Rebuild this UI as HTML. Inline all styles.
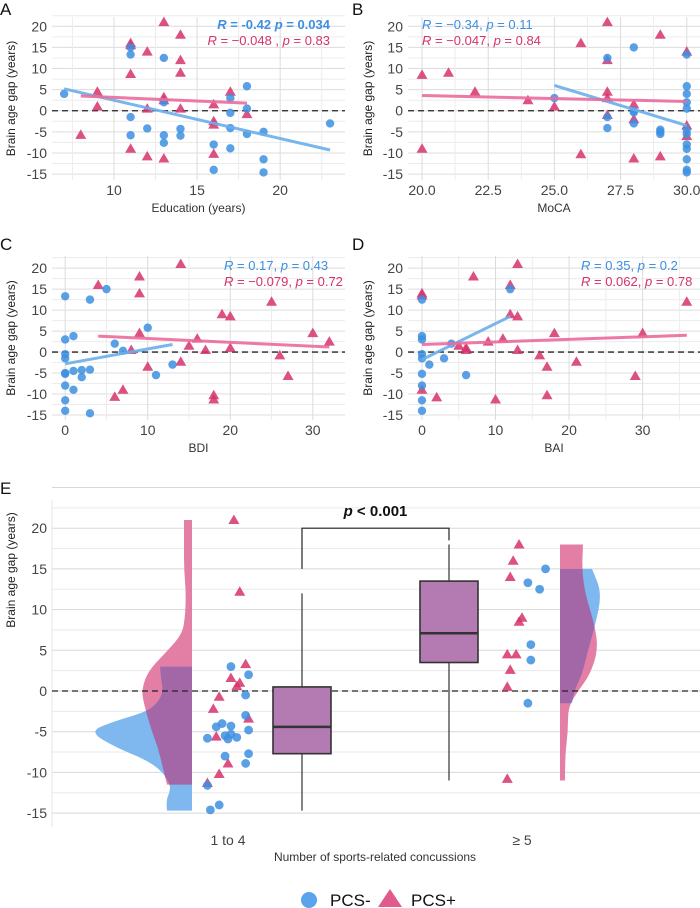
<!DOCTYPE html>
<html><head><meta charset="utf-8">
<style>
body{margin:0;background:#fff;}
svg{display:block;font-family:"Liberation Sans",sans-serif;}
</style></head>
<body>
<svg id="chart" width="700" height="908" viewBox="0 0 700 908"></svg>
<script>
// ---------- Panel A data (Education) ----------
const eduBlueX=[7,11,11,11,11,12,13,13,13,13,14,14,16,16,17,17,17,17,18,18,18,19,19,19,23];
const eduBlueY=[4,15,13.3,-1.5,-5.8,-4.2,12.5,2,-5.8,-7.6,-4.3,-5.9,-8,-14,3,-0.5,-4.1,-8.9,5.8,0.5,-5.5,-5,-11.5,-14.6,-3];
const eduPinkX=[8,9,9,11,11,11,11,12,12,12,13,13,13,13,14,14,14,14,16,16,16,16,17,18];
const eduPinkY=[-5.7,4.5,1,16,15.5,8.7,-9,14,0.5,-10.8,21,3.2,2.5,-11.3,18,12,9,0.5,1.5,-2.5,-3.3,-10.2,4.5,-0.8];
const eduBlueFit=[[7,5.2],[23,-9.3]];
const eduPinkFit=[[8,3.5],[18,1.8]];
// ---------- Panel B data (MoCA) ----------
const mocaBlueX=[25,27,27,27,28,28,28,28,29,29,29,30,30,30,30,30,30,30,30,30,30,30,30];
const mocaBlueY=[3,12.5,-1.5,-4.1,15,0,-0.4,-3,-4.5,-5,-5.5,13.3,5.8,4,2,0.5,-4.5,-5.5,-8,-9,-11.5,-14,-14.6];
const mocaPinkX=[20,20,21,22,24,25,26,26,27,27,27,27,27,28,28,28,29,29,30,30,30];
const mocaPinkY=[8.5,-9,9,4.5,2.5,1,16,-10.3,21,12,4.5,3,-1,1.5,-2,-11.3,18,-10.8,14,-3.5,-6];
const mocaBlueFit=[[25,6],[30,-3.5]];
const mocaPinkFit=[[20,3.6],[30,2.2]];
// ---------- Panel C data (BDI) ----------
const bdiBlueX=[0,0,0,0,0,0,0,0,0,1,1,1,2,2,3,3,3,5,6,7,10,11,13];
const bdiBlueY=[13.3,3,-0.5,-1.5,-5,-5.2,-8,-11.5,-14,3.8,-4.5,-9,-4.3,-6,12.5,-4.2,-14.6,15,2,0.3,5.8,-5.5,-3];
const bdiPinkX=[4,6,7,8,9,9,9,10,14,14,15,16,17,18,18,19,20,20,25,26,27,30,32];
const bdiPinkY=[16,-10.7,-9,0.5,18,14,4.5,-3.5,21,-2.3,1.5,3.2,0.5,-10.3,-11.3,9,8.5,1,12,-0.8,-5.7,4.5,2.5];
const bdiBlueFit=[[0,-2.8],[13,1.8]];
const bdiPinkFit=[[4,3.8],[32,1.2]];
// ---------- Panel D data (BAI) ----------
const baiBlueX=[0,0,0,0,0,0,0,0,0,1,3,4,6,12];
const baiBlueY=[12.5,3.8,3,-0.5,-1.5,-5.2,-8,-11.5,-14,-3,-1.5,2,-5.5,15];
const baiPinkX=[0,0,0,2,5,6,6,7,9,10,11,12,12,13,13,13,16,17,17,18,21,29,30,36];
const baiPinkY=[14,13.5,-9,-10.8,1.5,1,0.5,18,2.5,-11.3,3.2,16,9,21,8.5,0.5,-0.8,-3.5,-10.3,4.5,-2.3,-5.7,4.5,12];
const baiBlueFit=[[0,-1.8],[12,8.5]];
const baiPinkFit=[[0,1.8],[36,4]];
// ---------- Panel E data ----------
const groupLabels=["1 to 4","\u2265 5"];
const eBlueG=[1,1,1,1,1,1,1,1,1,1,1,1,1,1,1,1,1,1,1,2,2,2,2,2,2];
const eBlueJit=[0.01,0.07,0.06,0.06,0.07,0.07,0.06,-0.02,-0.04,0.01,-0.01,0.01,0.03,0,-0.07,-0.01,-0.07,-0.03,-0.06,0.08,0.02,0.06,0.03,0.03,0.02];
const eBlueY=[3,2,-0.5,-3,-4.8,-7.7,-8.9,-4,-4.4,-4.3,-5.5,-5.3,-5.7,-5.9,-5.8,-8,-11.6,-14,-14.6,15,13.3,12.5,5.7,3.8,-1.5];
const ePinkG=[1,1,1,1,1,1,1,1,1,1,1,1,1,2,2,2,2,2,2,2,2,2,2];
const ePinkJit=[0.02,0.04,0.06,0.01,0.04,0.03,-0.03,-0.05,0.07,-0.04,0,-0.03,-0.07,-0.01,-0.03,-0.04,0,-0.01,-0.05,-0.02,-0.04,-0.05,-0.05];
const ePinkY=[21,12.2,3.3,1.6,1,0.6,-0.7,-2.2,-3.4,-5.6,-8.9,-10.2,-11.3,18,16,14,9,8.5,4.5,4.5,2.6,0.5,-10.8];
const boxStats=[[-14.7,-7.7,-4.4,0.5,12],[-11,3.5,7.1,13.5,18]]; // min,q1,med,q3,max
// half-violin densities: [value, relative width]
const vPink1=[[-11.5,25],[-10.5,27],[-9,30],[-7,34],[-5,40],[-3,45],[-1,49],[0,50],[1.5,47],[3,40],[5,24],[7,10],[9,7],[12,6],[15,8],[18,8],[21,8]];
const vBlue1=[[-14.7,25],[-13.5,26],[-12.3,22],[-11.5,22],[-10,29],[-8.5,45],[-7,75],[-5,103],[-3.8,80],[-2.5,44],[-1.2,33],[0,29],[1.5,31],[3,32]];
const vPink2=[[-11,5],[-8,5],[-5,8],[-2,8],[0,18],[2,30],[5,38],[8,35],[12,25],[15,22],[18,23]];
const vBlue2=[[-1.5,12],[0,14],[2,22],[5,28],[8,35],[12,42],[15,32]];

const NS="http://www.w3.org/2000/svg";
const svg=document.getElementById('chart');
function mk(tag,attrs,parent){const e=document.createElementNS(NS,tag);for(const k in attrs)e.setAttribute(k,attrs[k]);(parent||svg).appendChild(e);return e;}
const BLUE="#3d8fe0",PINK="#d6336c",BLUEL="#6aaeea",PINKL="#ea6a9c";

function panel(o){
  const g=mk('g',{});
  
  
  const sx=v=>o.x0+(v-o.xd[0])/(o.xd[1]-o.xd[0])*(o.x1-o.x0);
  const sy=v=>o.y0+(o.yd[1]-v)/(o.yd[1]-o.yd[0])*(o.y1-o.y0);
  for(let v=-15;v<=22.5;v+=2.5){const l=mk('line',{x1:o.x0,x2:o.x1,y1:sy(v),y2:sy(v),stroke:v%5===0?"#dcdcdc":"#ececec","stroke-width":1},g);}
  for(let v=Math.ceil(o.xd[0]/(o.xt/2))*(o.xt/2);v<=o.xd[1];v+=o.xt/2){const maj=Math.abs(v/o.xt-Math.round(v/o.xt))<1e-6;const l=mk('line',{x1:sx(v),x2:sx(v),y1:o.y0,y2:o.y1,stroke:maj?"#dcdcdc":"#ececec","stroke-width":1},g);}
  for(let v=-15;v<=20;v+=5){const t=mk('text',{x:o.x0-5,y:sy(v)+5,"text-anchor":"end","font-size":14,fill:"#444"},g);t.textContent=v;}
  o.xticks.forEach(v=>{const t=mk('text',{x:sx(v),y:o.y1+15,"text-anchor":"middle","font-size":14,fill:"#444"},g);t.textContent=o.xfmt?o.xfmt(v):v;});
  const xt=mk('text',{x:(o.x0+o.x1)/2,y:o.y1+32,"text-anchor":"middle","font-size":12,fill:"#333"},g);xt.textContent=o.xlab;
  const yt=mk('text',{x:0,y:0,"text-anchor":"middle","font-size":12,fill:"#222",transform:`translate(${o.ytx},${(o.y0+o.y1)/2}) rotate(-90)`},g);yt.textContent="Brain age gap (years)";
  const lt=mk('text',{x:o.lx,y:o.ly,"font-size":17,fill:"#111"},g);lt.textContent=o.letter;
  const z=mk('line',{x1:o.x0,x2:o.x1,y1:sy(0),y2:sy(0),stroke:"#222","stroke-width":1.3,"stroke-dasharray":"6,4"},g);
  o.px.forEach((v,i)=>{const y=sy(o.py[i]),x=sx(v);const p=mk('polygon',{points:`${x},${y-5.5} ${x-5.5},${y+4} ${x+5.5},${y+4}`,fill:PINK,"fill-opacity":0.85},g);});
  o.bx.forEach((v,i)=>{const c=mk('circle',{cx:sx(v),cy:sy(o.by[i]),r:4.2,fill:BLUE,"fill-opacity":0.85},g);});
  const fb=mk('line',{x1:sx(o.bf[0][0]),y1:sy(o.bf[0][1]),x2:sx(o.bf[1][0]),y2:sy(o.bf[1][1]),stroke:BLUEL,"stroke-width":3,"stroke-opacity":0.9},g);
  const fp=mk('line',{x1:sx(o.pf[0][0]),y1:sy(o.pf[0][1]),x2:sx(o.pf[1][0]),y2:sy(o.pf[1][1]),stroke:PINKL,"stroke-width":3,"stroke-opacity":0.9},g);
  const a1=mk('text',{x:o.ax,y:o.ay,"text-anchor":o.anchor,"font-size":13,fill:BLUE,"font-weight":o.bold?"bold":"normal"},g);a1.innerHTML=o.t1;
  const a2=mk('text',{x:o.ax,y:o.ay+16,"text-anchor":o.anchor,"font-size":13,fill:PINK},g);a2.innerHTML=o.t2;
}
panel({name:'panel-a',letter:'A',lx:0,ly:15,x0:52,x1:345,xd:[6.27,23.9],y0:17,y1:180,yd:[-16.4,22.2],xt:5,xticks:[10,15,20],xlab:'Education (years)',ytx:15,
  bx:eduBlueX,by:eduBlueY,px:eduPinkX,py:eduPinkY,bf:eduBlueFit,pf:eduPinkFit,ax:330,ay:29,anchor:'end',bold:true,
  t1:'<tspan font-style="italic">R</tspan> = -0.42 <tspan font-style="italic">p</tspan> = 0.034',t2:'<tspan font-style="italic">R</tspan> = \u22120.048 , <tspan font-style="italic">p</tspan> = 0.83'});
panel({name:'panel-b',letter:'B',lx:352,ly:15,x0:408,x1:700,xd:[19.47,30.5],y0:17,y1:180,yd:[-16.4,22.2],xt:2.5,xticks:[20,22.5,25,27.5,30],xfmt:v=>v.toFixed(1),xlab:'MoCA',ytx:372,
  bx:mocaBlueX,by:mocaBlueY,px:mocaPinkX,py:mocaPinkY,bf:mocaBlueFit,pf:mocaPinkFit,ax:422,ay:29,anchor:'start',
  t1:'<tspan font-style="italic">R</tspan> = \u22120.34, <tspan font-style="italic">p</tspan> = 0.11',t2:'<tspan font-style="italic">R</tspan> = \u22120.047, <tspan font-style="italic">p</tspan> = 0.84'});
panel({name:'panel-c',letter:'C',lx:0,ly:250,x0:52,x1:345,xd:[-1.6,33.9],y0:256,y1:420,yd:[-16.2,22.9],xt:10,xticks:[0,10,20,30],xlab:'BDI',ytx:15,
  bx:bdiBlueX,by:bdiBlueY,px:bdiPinkX,py:bdiPinkY,bf:bdiBlueFit,pf:bdiPinkFit,ax:224,ay:270,anchor:'start',
  t1:'<tspan font-style="italic">R</tspan> = 0.17, <tspan font-style="italic">p</tspan> = 0.43',t2:'<tspan font-style="italic">R</tspan> = \u22120.079, <tspan font-style="italic">p</tspan> = 0.72'});
panel({name:'panel-d',letter:'D',lx:352,ly:250,x0:408,x1:700,xd:[-1.9,37.8],y0:256,y1:420,yd:[-16.2,22.9],xt:10,xticks:[0,10,20,30],xlab:'BAI',ytx:372,
  bx:baiBlueX,by:baiBlueY,px:baiPinkX,py:baiPinkY,bf:baiBlueFit,pf:baiPinkFit,ax:581,ay:270,anchor:'start',
  t1:'<tspan font-style="italic">R</tspan> = 0.35, <tspan font-style="italic">p</tspan> = 0.2',t2:'<tspan font-style="italic">R</tspan> = 0.062, <tspan font-style="italic">p</tspan> = 0.78'});

// ---------- Panel E ----------
(function(){
  const g=mk('g',{});
  
  
  const X0=52,X1=700,Y0=500,Y1=827;
  const sx=v=>228+(v-1)*294;
  const sy=v=>691-v*8.14;
  for(let v=-15;v<=25;v+=2.5){const l=mk('line',{x1:X0,x2:X1,y1:sy(v),y2:sy(v),stroke:v%5===0?"#d8d8d8":"#eaeaea","stroke-width":1},g);}
  const ax=mk('line',{x1:X0,x2:X0,y1:Y0,y2:Y1,stroke:"#e6e6e6"},g);
  for(let v=-15;v<=20;v+=5){const t=mk('text',{x:X0-5,y:sy(v)+5,"text-anchor":"end","font-size":14,fill:"#444"},g);t.textContent=v;}
  groupLabels.forEach((s,i)=>{const t=mk('text',{x:sx(i+1),y:845,"text-anchor":"middle","font-size":14,fill:"#444"},g);t.textContent=s;});
  const xt=mk('text',{x:375,y:861,"text-anchor":"middle","font-size":12,fill:"#333"},g);xt.textContent="Number of sports-related concussions";
  const yt=mk('text',{x:0,y:0,"text-anchor":"middle","font-size":12,fill:"#222",transform:`translate(15,570) rotate(-90)`},g);yt.textContent="Brain age gap (years)";
  const lt=mk('text',{x:0,y:494,"font-size":17,fill:"#111"},g);lt.textContent="E";
  // smooth half violin path
  function vpath(d,base,dir){
    const pts=d.map(q=>[base+dir*q[1],sy(q[0])]);
    let p=`M${base},${pts[0][1]} L${pts[0][0]},${pts[0][1]}`;
    for(let i=1;i<pts.length-1;i++){
      const mx=(pts[i][0]+pts[i+1][0])/2,my=(pts[i][1]+pts[i+1][1])/2;
      p+=` Q${pts[i][0]},${pts[i][1]} ${mx},${my}`;
    }
    const l=pts[pts.length-1];
    p+=` L${l[0]},${l[1]} L${base},${l[1]} Z`;
    return p;
  }
  const defs=mk('defs',{});
  const vb1=sx(1)-36, vb2=sx(2)+38;
  const cp1=mk('clipPath',{id:'clipB1'},defs);mk('path',{d:vpath(vBlue1,vb1,-1)},cp1);
  const cp2=mk('clipPath',{id:'clipB2'},defs);mk('path',{d:vpath(vBlue2,vb2,1)},cp2);
  function vio(d,base,dir,col,name,clip){
    const e=mk('path',{d:vpath(d,base,dir),fill:col},g);
    if(clip)e.setAttribute('clip-path',`url(#${clip})`);
    
    
  }
  vio(vPink1,vb1,-1,"#e37fa4",'violin-pcs-plus-group1');
  vio(vBlue1,vb1,-1,"#7fb8ee",'violin-pcs-minus-group1');
  vio(vPink1,vb1,-1,"#a366a6",'violin-overlap-group1','clipB1');
  vio(vPink2,vb2,1,"#e37fa4",'violin-pcs-plus-group2');
  vio(vBlue2,vb2,1,"#7fb8ee",'violin-pcs-minus-group2');
  vio(vPink2,vb2,1,"#a366a6",'violin-overlap-group2','clipB2');
  const z=mk('line',{x1:X0,x2:X1,y1:sy(0),y2:sy(0),stroke:"#222","stroke-width":1.3,"stroke-dasharray":"6,4"},g);
  const boxX=[sx(1)+74,sx(2)-73];
  boxStats.forEach((s,i)=>{
    const cx=boxX[i];
    const w=mk('line',{x1:cx,x2:cx,y1:sy(s[0]),y2:sy(s[4]),stroke:"#333","stroke-width":1.2},g);
    const r=mk('rect',{x:cx-29,y:sy(s[3]),width:58,height:sy(s[1])-sy(s[3]),fill:"#b47ab2",stroke:"#333","stroke-width":1.6},g);
    const m=mk('line',{x1:cx-29,x2:cx+29,y1:sy(s[2]),y2:sy(s[2]),stroke:"#333","stroke-width":2.5},g);
  });
  const br=mk('path',{d:`M${boxX[0]},${sy(15)} V${sy(20)} H${boxX[1]} V${sy(18.5)}`,fill:"none",stroke:"#222","stroke-width":1.2},g);
  const pt=mk('text',{x:(boxX[0]+boxX[1])/2,y:sy(21.5),"text-anchor":"middle","font-size":15,"font-weight":"bold",fill:"#111"},g);pt.innerHTML='<tspan font-style="italic">p</tspan> &lt; 0.001';
  ePinkY.forEach((v,i)=>{const x=sx(ePinkG[i]+ePinkJit[i]),y=sy(v);const p=mk('polygon',{points:`${x},${y-5.5} ${x-5.5},${y+4} ${x+5.5},${y+4}`,fill:PINK,"fill-opacity":0.85},g);});
  eBlueY.forEach((v,i)=>{const c=mk('circle',{cx:sx(eBlueG[i]+eBlueJit[i]),cy:sy(v),r:4.4,fill:BLUE,"fill-opacity":0.85},g);});
})();
// ---------- Legend ----------
(function(){
  const g=mk('g',{});
  
  
  const c=mk('circle',{cx:309,cy:900,r:8,fill:"#5aa4ec"},g);
  const t1=mk('text',{x:330,y:906,"font-size":17,fill:"#111"},g);t1.textContent="PCS-";
  const p=mk('polygon',{points:"390,889 378,907 402,907",fill:"#e05a8c"},g);
  const t2=mk('text',{x:411,y:906,"font-size":17,fill:"#111"},g);t2.textContent="PCS+";
})();
</script>
</body></html>
